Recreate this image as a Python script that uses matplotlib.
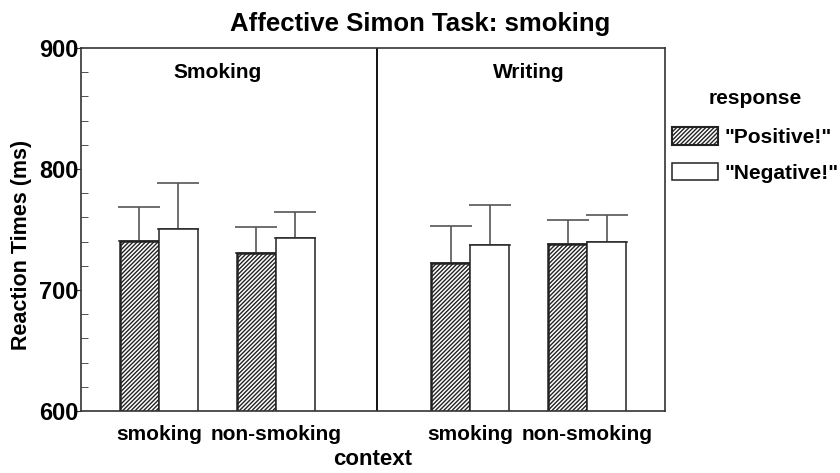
import numpy as np
import matplotlib.pyplot as plt
from matplotlib.ticker import MultipleLocator
from matplotlib.patches import Patch
from matplotlib import rcParams

rcParams['font.family'] = 'Liberation Sans'
rcParams['font.weight'] = 'bold'
rcParams['axes.labelweight'] = 'bold'
rcParams['hatch.linewidth'] = 1.0

# mean reaction times and upper error bars, Smoking panel then Writing panel
contexts = ['smoking', 'non-smoking', 'smoking', 'non-smoking']
panels = ['Smoking', 'Writing']
positive_rt = [740.5, 730.8, 722.4, 737.9]
negative_rt = [750.2, 742.9, 737.6, 739.8]
positive_err = [28.2, 21.5, 30.4, 19.8]
negative_err = [38.4, 21.8, 32.9, 22.4]

centers = np.array([2, 5, 10, 13])
width = 1.0

fig = plt.figure(figsize=(8.4, 4.73), dpi=100)
ax = fig.add_axes([0.0964, 0.131, 0.6953, 0.7675])

edge = '#222222'
ax.bar(centers - width / 2, positive_rt, width, color='white',
       edgecolor=edge, linewidth=1.8, hatch='////////', zorder=2)
ax.bar(centers + width / 2, negative_rt, width, color='white',
       edgecolor=edge, linewidth=1.1, zorder=2)

# upper error bars only
ax.errorbar(centers - width / 2, positive_rt, yerr=[np.zeros(4), positive_err],
            fmt='none', ecolor='#555555', elinewidth=1.2, capsize=15,
            capthick=1.2, zorder=1)
ax.errorbar(centers + width / 2, negative_rt, yerr=[np.zeros(4), negative_err],
            fmt='none', ecolor='#555555', elinewidth=1.2, capsize=15,
            capthick=1.2, zorder=1)

# panel divider and panel names
ax.axvline(7.6, color='#111111', linewidth=1.4)
ax.text(3.5, 880, panels[0], ha='center', va='center', fontsize=15)
ax.text(11.5, 880, panels[1], ha='center', va='center', fontsize=15)

ax.set_xlim(0, 15)
ax.set_ylim(600, 900)
ax.set_xticks(centers)
ax.set_xticklabels(contexts, fontsize=15)
ax.tick_params(axis='x', length=0, pad=10)
ax.yaxis.set_major_locator(MultipleLocator(100))
ax.yaxis.set_minor_locator(MultipleLocator(20))
ax.tick_params(axis='y', which='major', direction='out', length=4,
               labelsize=17, color='#333333', pad=-2)
ax.tick_params(axis='y', which='minor', direction='in', length=5,
               color='#333333')
for s in ax.spines.values():
    s.set_color('#333333')
    s.set_linewidth(1.2)

ax.set_ylabel('Reaction Times (ms)', fontsize=15.5)
ax.yaxis.set_label_coords(-0.083, 0.457)
ax.set_xlabel('context', fontsize=16, labelpad=4)
fig.text(0.5, 0.95, 'Affective Simon Task: smoking', ha='center',
         va='center', fontsize=18.5, fontweight='bold')

handles = [Patch(facecolor='white', edgecolor=edge, hatch='////////', linewidth=1.5),
           Patch(facecolor='white', edgecolor=edge, linewidth=1.1)]
leg = ax.legend(handles, ['"Positive!"', '"Negative!"'], title='response',
                loc='upper left', bbox_to_anchor=(0.8, 0.812),
                bbox_transform=fig.transFigure, frameon=False, fontsize=15,
                title_fontproperties={'size': 15, 'weight': 'bold'},
                handlelength=2.2, handleheight=0.9, handletextpad=0.3,
                labelspacing=0.75, borderaxespad=0, borderpad=0)
leg._legend_box.sep = 14

fig.savefig('out.png', dpi=100)
